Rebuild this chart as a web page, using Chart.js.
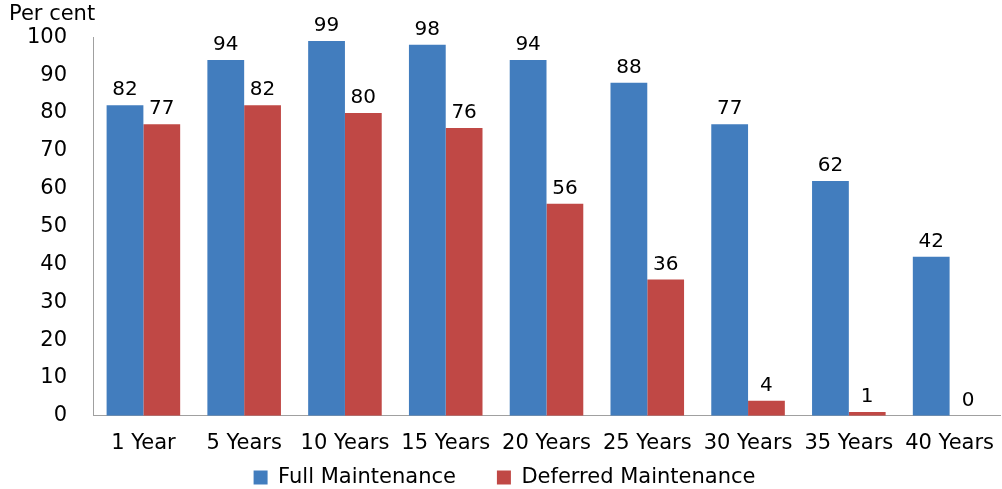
<!DOCTYPE html>
<html>
<head>
<meta charset="utf-8">
<script src="https://cdn.jsdelivr.net/npm/chart.js@4/dist/chart.umd.min.js"></script>
<style>
  html, body { margin: 0; padding: 0; background: #fff; }
  #wrap { width: 1002px; height: 489px; }
</style>
</head>
<body>
<div id="wrap"><canvas id="maintChart"></canvas></div>
<script>
// Datos del gráfico
const categories = ['1 Year', '5 Years', '10 Years', '15 Years', '20 Years', '25 Years', '30 Years', '35 Years', '40 Years'];
const fullMaintenance = [82, 94, 99, 98, 94, 88, 77, 62, 42];
const deferredMaintenance = [77, 82, 80, 76, 56, 36, 4, 1, 0];
const yTicks = [0, 10, 20, 30, 40, 50, 60, 70, 80, 90, 100];

const FONT = "'DejaVu Sans', Verdana, sans-serif";

// Etiquetas encima de cada barra
const barLabels = {
    id: 'barLabels',
    afterDatasetsDraw(chart) {
        const ctx = chart.ctx;
        ctx.save();
        ctx.font = '20px ' + FONT;
        ctx.fillStyle = '#000';
        ctx.textAlign = 'center';
        ctx.textBaseline = 'alphabetic';
        chart.data.datasets.forEach(function(ds, i) {
            const meta = chart.getDatasetMeta(i);
            meta.data.forEach(function(bar, j) {
                ctx.fillText(String(ds.data[j]), bar.x, bar.y - 10);
            });
        });
        ctx.restore();
    }
};

// La leyenda usa un padding grande para separar los elementos;
// se agranda la caja hacia arriba para que los elementos queden abajo
const legendShift = {
    id: 'legendShift',
    afterLayout(chart) {
        const lg = chart.legend;
        if (!lg) return;
        lg.top = lg.bottom - lg.options.labels.padding - 22;
    }
};

function initChart() {
    const el = document.getElementById('maintChart');
    new Chart(el.getContext('2d'), {
        type: 'bar',
        data: {
            labels: categories,
            datasets: [{
                label: 'Full Maintenance',
                data: fullMaintenance,
                backgroundColor: '#427dbe',
                borderWidth: 0
            }, {
                label: 'Deferred Maintenance',
                data: deferredMaintenance,
                backgroundColor: '#c04845',
                borderWidth: 0
            }]
        },
        options: {
            responsive: true,
            maintainAspectRatio: false,
            animation: false,
            layout: { padding: { left: 9, right: 2, top: 0, bottom: 0 } },
            datasets: {
                bar: { categoryPercentage: 0.73, barPercentage: 1.0 }
            },
            plugins: {
                title: {
                    display: true,
                    text: 'Per cent',
                    align: 'start',
                    color: '#000',
                    font: { family: FONT, size: 21, weight: 'normal' },
                    padding: { top: 2, bottom: 10 }
                },
                legend: {
                    position: 'bottom',
                    maxHeight: 26,
                    labels: {
                        color: '#000',
                        font: { family: FONT, size: 21 },
                        boxWidth: 14,
                        boxHeight: 14,
                        padding: 41
                    }
                },
                tooltip: { enabled: false }
            },
            scales: {
                y: {
                    min: 0,
                    max: 100,
                    afterBuildTicks: function(axis) {
                        axis.ticks = yTicks.map(function(v) { return { value: v }; });
                    },
                    afterFit: function(axis) { axis.width = 84; },
                    grid: { display: false },
                    border: { display: true, color: '#a0a0a0', width: 1 },
                    ticks: {
                        color: '#000',
                        padding: 18,
                        font: { family: FONT, size: 21 }
                    }
                },
                x: {
                    grid: { display: false },
                    border: { display: true, color: '#a0a0a0', width: 1 },
                    ticks: {
                        color: '#000',
                        padding: 7,
                        maxRotation: 0,
                        autoSkip: false,
                        font: { family: FONT, size: 21 }
                    }
                }
            }
        },
        plugins: [barLabels, legendShift]
    });
}

document.addEventListener('DOMContentLoaded', initChart);
</script>
</body>
</html>
